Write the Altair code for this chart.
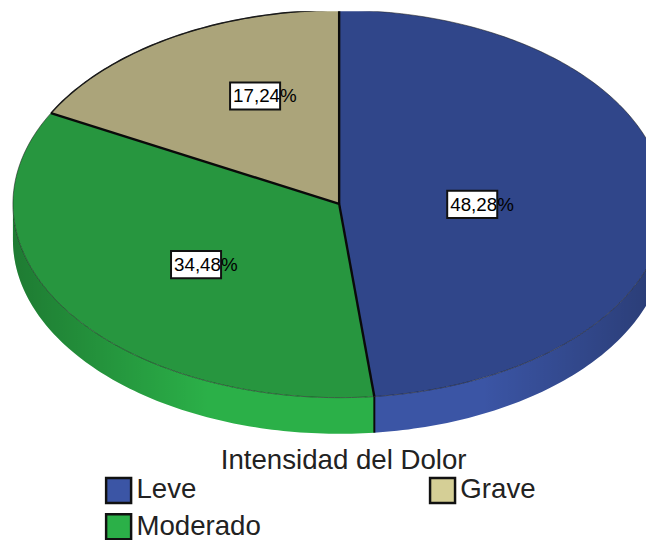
import math
import altair as alt
import pandas as pd

categories = ["Leve", "Moderado", "Grave"]
percentages = [48.28, 34.48, 17.24]
percent_labels = ["48,28%", "34,48%", "17,24%"]

top_colors = ["#30468a", "#27963f", "#aba47a"]
side_colors = ["#3b55a5", "#2bb048", "#d5cf96"]

# page-pixel layout of the ellipse
CX, CY, RX, RY, DEPTH = 339, 203, 326, 193, 36
W, H = 646, 532
ux = lambda px: (px - CX) / RX
uy = lambda py: (CY - py) / RY
x_scale = alt.Scale(domain=[-1, 1], range=[5, 665.6])
y_scale = alt.Scale(domain=[-1, 1], range=[391.2, -1.15])
D = DEPTH / RY

# slice angles from the values, clockwise from 12 o'clock
starts, acc = [], 0.0
for p in percentages:
    starts.append(acc)
    acc += p * 3.6
ends = starts[1:] + [360.0]


def pt(deg):
    return math.sin(math.radians(deg)), math.cos(math.radians(deg))


def arc(a, b, step=1.0):
    n = max(2, int(abs(b - a) / step) + 1)
    return [a + (b - a) * i / (n - 1) for i in range(n)]


faces, rims, spokes, walls, shade = [], [], [], [], []
for cat, a, b in zip(categories, starts, ends):
    faces.append(dict(cat=cat, i=0, x=0, y=0))
    for i, t in enumerate(arc(a, b)):
        sx, sy = pt(t)
        faces.append(dict(cat=cat, i=i + 1, x=sx, y=sy))
        rims.append(dict(cat=cat, i=i, x=sx, y=sy))
    sx, sy = pt(a)
    spokes += [dict(id=cat, i=0, x=0, y=0), dict(id=cat, i=1, x=sx, y=sy)]
    lo, hi = max(a, 90), min(b, 270)
    if lo < hi:
        for t in arc(lo, hi):
            sx, sy = pt(t)
            walls.append(dict(cat=cat, x=sx, y=sy, y2=sy - D))

for t in arc(90, 270):
    sx, sy = pt(t)
    shade.append(dict(x=sx, y=sy, y2=sy - D))

seam_x, seam_y = pt(ends[0])
seam = [dict(x=seam_x, y=seam_y, y2=seam_y - D)]

X = alt.X("x:Q", scale=x_scale, axis=None)
Y = alt.Y("y:Q", scale=y_scale, axis=None)
Y2 = alt.Y2("y2:Q")

wall_layer = alt.Chart(pd.DataFrame(walls)).mark_area(clip=True).encode(
    x=X, y=Y, y2=Y2,
    color=alt.Color(
        "cat:N",
        scale=alt.Scale(domain=categories, range=side_colors),
        legend=alt.Legend(
            orient="none", legendX=98, legendY=471, columns=2, title=None,
            symbolType="square", symbolSize=640, symbolStrokeColor="#111",
            symbolStrokeWidth=2.5, symbolOpacity=1, labelFontSize=28,
            labelFont="Liberation Sans", labelColor="#222", labelOffset=4,
            columnPadding=165, rowPadding=1, labelLimit=200,
        ),
    ),
)

shade_layer = alt.Chart(pd.DataFrame(shade)).mark_area(
    clip=True,
    color=alt.Gradient(
        gradient="linear", x1=0, x2=1, y1=0, y2=0,
        stops=[
            alt.GradientStop(color="rgba(0,0,0,0.3)", offset=0),
            alt.GradientStop(color="rgba(0,0,0,0)", offset=0.3),
            alt.GradientStop(color="rgba(0,0,0,0)", offset=0.72),
            alt.GradientStop(color="rgba(0,0,0,0.3)", offset=1),
        ],
    ),
).encode(x=X, y=Y, y2=Y2)

face_layer = alt.Chart(pd.DataFrame(faces)).mark_line(clip=True, strokeOpacity=0).encode(
    x=X, y=Y, order="i:Q",
    fill=alt.Fill(
        "cat:N",
        scale=alt.Scale(domain=categories, range=top_colors),
        legend=None,
    ),
)

rim_layer = alt.Chart(pd.DataFrame(rims)).mark_line(
    clip=True, color="#1a1a1a", strokeWidth=1, opacity=0.55
).encode(x=X, y=Y, order="i:Q", detail="cat:N")

tan_rim_layer = alt.Chart(pd.DataFrame([r for r in rims if r["cat"] == "Grave"])).mark_line(
    clip=True, color="#1a1a1a", strokeWidth=1.5
).encode(x=X, y=Y, order="i:Q")

spoke_layer = alt.Chart(pd.DataFrame(spokes)).mark_line(
    clip=True, color="#0a0a0a", strokeWidth=2.4
).encode(x=X, y=Y, order="i:Q", detail="id:N")

seam_layer = alt.Chart(pd.DataFrame(seam)).mark_rule(color="#0a0a0a", strokeWidth=2).encode(
    x=X, y=Y, y2=Y2
)

# label boxes: page-pixel left/top of each white box
BOX_W, BOX_H = 50, 27
box_left = [447, 171, 230]
box_top = [190, 250, 82]
labels = pd.DataFrame(
    dict(
        text=percent_labels,
        x=[ux(v) for v in box_left],
        x2=[ux(v + BOX_W) for v in box_left],
        y=[uy(v) for v in box_top],
        y2=[uy(v + BOX_H) for v in box_top],
        tx=[ux(v + 3) for v in box_left],
        ty=[uy(v + BOX_H / 2 + 0.5) for v in box_top],
    )
)
box_layer = alt.Chart(labels).mark_rect(fill="white", stroke="#111", strokeWidth=2).encode(
    x=X, x2="x2:Q", y=Y, y2=Y2
)
text_layer = alt.Chart(labels).mark_text(
    align="left", baseline="middle", fontSize=19, font="Liberation Sans", color="#000"
).encode(
    x=alt.X("tx:Q", scale=x_scale, axis=None),
    y=alt.Y("ty:Q", scale=y_scale, axis=None),
    text="text:N",
)

title_df = pd.DataFrame(dict(x=[ux(343.5)], y=[uy(459)], t=["Intensidad del Dolor"]))
title_layer = alt.Chart(title_df).mark_text(
    align="center", baseline="middle", fontSize=28, font="Liberation Sans", color="#222"
).encode(x=X, y=Y, text="t:N")

chart = (
    alt.layer(
        wall_layer, shade_layer, face_layer, rim_layer, tan_rim_layer,
        spoke_layer, seam_layer, box_layer, text_layer, title_layer,
    )
    .properties(width=W, height=H, padding=0, autosize=alt.AutoSizeParams(type="none"), background="white")
    .configure_view(stroke=None)
)

chart.save("out.html", embed_options={"renderer": "svg", "actions": False})
